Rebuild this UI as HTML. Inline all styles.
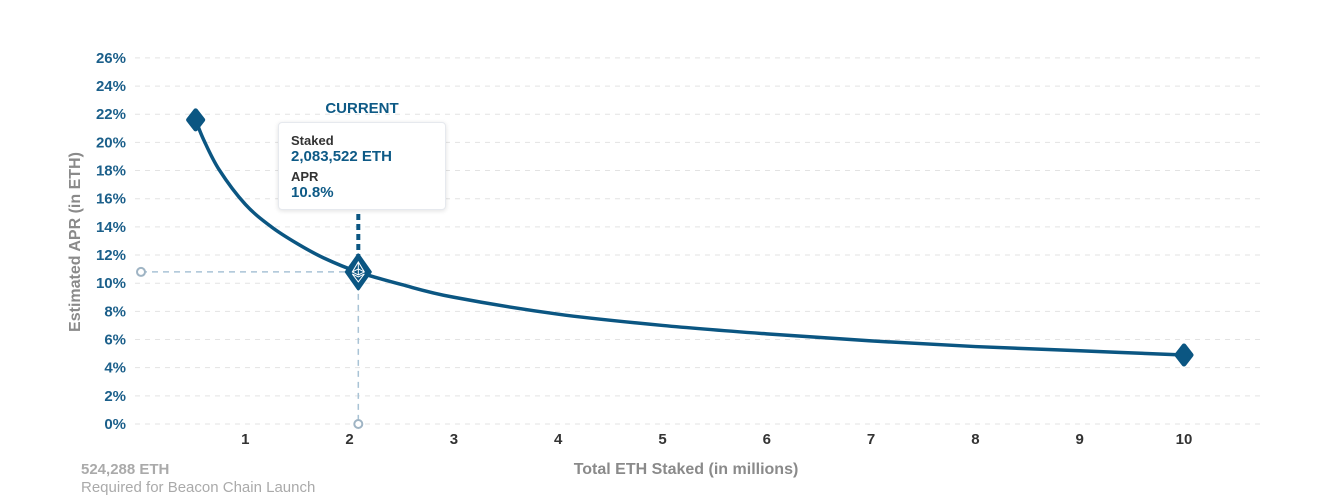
<!DOCTYPE html>
<html><head><meta charset="utf-8"><style>
body{margin:0;background:#fff;width:1322px;height:497px;overflow:hidden;font-family:"Liberation Sans",sans-serif}
svg{position:absolute;left:0;top:0}
#tip{position:absolute;left:278px;top:122px;width:168px;height:88px;background:#fff;border:1px solid #e6e9ee;border-radius:4px;box-shadow:0 1px 5px rgba(0,0,0,.12);box-sizing:border-box;padding:10px 12px;font-weight:bold}
#tip .l{font-size:13px;color:#333;line-height:15px}
#tip .v{font-size:15px;color:#0e5a86;line-height:17px;margin-bottom:4px}
</style></head><body>
<svg id="c" width="1322" height="497"></svg>
<div id="tip">
<div class="l">Staked</div><div class="v">2,083,522 ETH</div>
<div class="l">APR</div><div class="v">10.8%</div></div>
<script>
const yTicks=[0,2,4,6,8,10,12,14,16,18,20,22,24,26];
const xTicks=[1,2,3,4,5,6,7,8,9,10];
const stakedM=[0.524,0.6,0.75,1,1.25,1.5,1.75,2.08,2.5,3,4,5,6,7,8,9,10];
const aprPct=[21.6,20.2,18.05,15.6,14.0,12.8,11.8,10.8,9.9,9.0,7.8,7.0,6.4,5.9,5.5,5.2,4.9];
const currentStaked=[2.0835];
const currentApr=[10.8];
const NS="http://www.w3.org/2000/svg";
const svg=document.getElementById('c');
const X=v=>141+v*104.3;
const Y=v=>424-v*14.08;
function mk(t,a,p){const e=document.createElementNS(NS,t);for(const k in a)e.setAttribute(k,a[k]);(p||svg).appendChild(e);return e;}
yTicks.forEach(t=>{
 const g=mk('line',{x1:135,x2:1265,y1:Y(t),y2:Y(t),stroke:'#e3e3e3','stroke-dasharray':'5,5'});
 
 
 const tx=mk('text',{x:126,y:Y(t)+5,'text-anchor':'end','font-size':15,'font-weight':'bold',fill:'#1b5f8a'});
 tx.textContent=t+'%';
 
 
});
xTicks.forEach(t=>{
 const tx=mk('text',{x:X(t),y:444,'text-anchor':'middle','font-size':15,'font-weight':'bold',fill:'#333'});
 tx.textContent=t;
 
 
});
let yt=mk('text',{x:0,y:0,transform:'translate(80,242) rotate(-90)','text-anchor':'middle','font-size':16,'font-weight':'bold',fill:'#8a8a8a'});
yt.textContent='Estimated APR (in ETH)';


let xt=mk('text',{x:686,y:474,'text-anchor':'middle','font-size':16,'font-weight':'bold',fill:'#8a8a8a','xml:space':'preserve'});
xt.textContent='Total ETH Staked  (in millions)';


let n1=mk('text',{x:81,y:474,'font-size':15,'font-weight':'bold',fill:'#aaa'});
n1.textContent='524,288 ETH';


let n2=mk('text',{x:81,y:492,'font-size':15,fill:'#aaa'});
n2.textContent='Required for Beacon Chain Launch';


const P=stakedM.map((s,i)=>[X(s),Y(aprPct[i])]);
let d='M'+P[0][0]+','+P[0][1];
for(let i=0;i<P.length-1;i++){const p0=P[Math.max(0,i-1)],p1=P[i],p2=P[i+1],p3=P[Math.min(P.length-1,i+2)];
 d+=' C'+(p1[0]+(p2[0]-p0[0])/6)+','+(p1[1]+(p2[1]-p0[1])/6)+' '+(p2[0]-(p3[0]-p1[0])/6)+','+(p2[1]-(p3[1]-p1[1])/6)+' '+p2[0]+','+p2[1];}
const cv=mk('path',{d:d,fill:'none',stroke:'#0b5682','stroke-width':3.5});


const cx=X(currentStaked[0]),cy=Y(currentApr[0]);
const hl=mk('line',{x1:X(0),x2:cx,y1:cy,y2:cy,stroke:'#a9c3d6','stroke-width':1.5,'stroke-dasharray':'6,5'});


const vl=mk('line',{x1:cx,x2:cx,y1:cy,y2:Y(0),stroke:'#a9c3d6','stroke-width':1.5,'stroke-dasharray':'6,5'});


[[X(0),cy],[cx,Y(0)]].forEach(p=>{const c=mk('circle',{cx:p[0],cy:p[1],r:4,fill:'#fff',stroke:'#9fb4c4','stroke-width':2});
 
 });
const dl=mk('line',{x1:cx,x2:cx,y1:214,y2:cy-14,stroke:'#0b5682','stroke-width':4,'stroke-dasharray':'6,4'});


[0,P.length-1].forEach(i=>{const [x,y]=P[i];
 const m=mk('path',{d:`M${x},${y-9} L${x+7},${y} L${x},${y+9} L${x-7},${y}Z`,fill:'#0b5682',stroke:'#0b5682','stroke-width':5,'stroke-linejoin':'round'});
 
 });
const dm=mk('path',{d:`M${cx},${cy-17} L${cx+12},${cy} L${cx},${cy+17} L${cx-12},${cy}Z`,fill:'#0b5682',stroke:'#0b5682','stroke-width':3,'stroke-linejoin':'round'});


const eth=mk('path',{d:`M${cx},${cy-10} L${cx+6},${cy} L${cx},${cy+3} L${cx-6},${cy}Z M${cx-6},${cy+2} L${cx},${cy+10} L${cx+6},${cy+2} L${cx},${cy+5}Z M${cx},${cy-10} L${cx},${cy+3} M${cx-6},${cy} L${cx},${cy-3} L${cx+6},${cy}`,fill:'none',stroke:'#fff','stroke-width':1});


const cur=mk('text',{x:362,y:113,'text-anchor':'middle','font-size':15,'font-weight':'bold',fill:'#0e5a86'});
cur.textContent='CURRENT';


</script>
</body></html>
